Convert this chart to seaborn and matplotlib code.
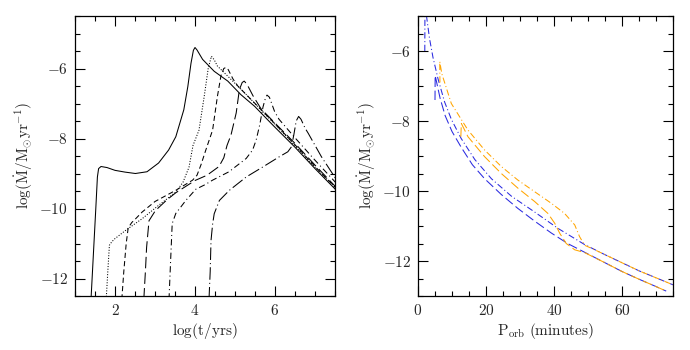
import matplotlib
matplotlib.use("Agg")
import seaborn as sns
import matplotlib.pyplot as plt
from matplotlib.ticker import MultipleLocator, FuncFormatter

# ---- left panel: log(t/yrs) vs log(Mdot), six tracks ----
t_solid = [1.40, 1.46, 1.52, 1.56, 1.59, 1.65, 1.80, 2.00, 2.25, 2.51, 2.80, 3.09, 3.34, 3.52,
           3.72, 3.82, 3.90, 3.96, 4.00, 4.05, 4.19, 4.48, 4.82, 5.15, 5.49, 5.82, 6.00, 6.50,
           7.00, 7.55]
m_solid = [-12.6, -11.3, -10.0, -9.1, -8.86, -8.80, -8.83, -8.91, -8.96, -9.00, -8.95, -8.70,
           -8.33, -7.95, -7.18, -6.52, -5.85, -5.48, -5.40, -5.47, -5.74, -6.08, -6.36, -6.75,
           -7.08, -7.47, -7.68, -8.25, -8.86, -9.50]

t_dot = [1.78, 1.82, 1.86, 1.92, 2.00, 2.26, 2.68, 3.09, 3.52, 3.70, 3.85, 3.95, 4.10, 4.23,
         4.33, 4.41, 4.48, 4.56, 4.82, 5.20, 5.60, 6.00, 6.50, 7.00, 7.55]
m_dot = [-12.6, -11.8, -11.05, -10.95, -10.86, -10.63, -10.29, -9.91, -9.53, -9.25, -8.82,
         -8.20, -7.76, -6.80, -6.00, -5.65, -5.75, -5.93, -6.22, -6.65, -7.12, -7.60, -8.20,
         -8.82, -9.45]

t_sdash = [2.17, 2.22, 2.28, 2.33, 2.42, 2.51, 2.68, 3.00, 3.52, 3.94, 4.05, 4.15, 4.27, 4.44,
           4.56, 4.65, 4.72, 4.77, 4.83, 4.95, 5.07, 5.50, 6.00, 6.50, 7.00, 7.55]
m_sdash = [-12.6, -11.8, -11.0, -10.55, -10.40, -10.30, -10.10, -9.80, -9.48, -9.19, -9.05,
           -8.75, -8.33, -7.76, -6.80, -6.20, -6.00, -5.97, -6.03, -6.30, -6.50, -7.00, -7.58,
           -8.18, -8.80, -9.45]

t_ldash = [2.72, 2.76, 2.79, 2.85, 3.01, 3.30, 3.52, 4.00, 4.30, 4.60, 4.72, 4.80, 4.90, 5.03,
           5.11, 5.18, 5.23, 5.30, 5.45, 5.65, 6.00, 6.50, 7.00, 7.55]
m_ldash = [-12.6, -11.8, -11.11, -10.35, -10.06, -9.75, -9.55, -9.20, -9.05, -8.80, -8.55,
           -8.20, -7.90, -7.27, -6.60, -6.40, -6.36, -6.45, -6.78, -7.15, -7.56, -8.14, -8.76,
           -9.42]

t_dd = [3.35, 3.39, 3.43, 3.52, 3.65, 3.77, 4.02, 4.25, 4.44, 4.85, 5.28, 5.44, 5.53, 5.62,
        5.70, 5.76, 5.80, 5.86, 5.99, 6.10, 6.50, 7.00, 7.55]
m_dd = [-12.6, -11.5, -10.43, -10.14, -9.95, -9.77, -9.45, -9.32, -9.19, -8.95, -8.57, -8.33,
        -8.04, -7.60, -7.10, -6.85, -6.76, -6.82, -7.23, -7.45, -7.98, -8.62, -9.30]

t_ldd = [4.35, 4.38, 4.40, 4.44, 4.48, 4.61, 4.86, 5.28, 5.70, 6.11, 6.32, 6.41, 6.47, 6.53,
         6.59, 6.65, 6.75, 6.83, 7.16, 7.55]
m_ldd = [-12.6, -11.8, -10.92, -10.45, -10.15, -9.77, -9.48, -9.10, -8.81, -8.52, -8.38,
         -8.24, -7.90, -7.50, -7.37, -7.45, -7.70, -7.85, -8.52, -9.20]

# ---- right panel: P_orb (minutes) vs log(Mdot) ----
p_blue_dd = [2.0, 2.05, 2.5, 3.4, 4.4, 5.9, 7.8, 9.8, 12.7, 16.7, 21.6, 27.5, 34.3, 41.2,
             49.0, 55.0, 60.0, 65.0, 70.0, 75.0]
m_blue_dd = [-6.0, -4.6, -5.0, -5.65, -6.18, -6.80, -7.45, -7.95, -8.50, -9.10, -9.65, -10.15,
             -10.60, -11.07, -11.53, -11.82, -12.05, -12.28, -12.48, -12.68]

p_blue_da = [5.0, 5.05, 6.5, 8.0, 10.0, 12.7, 16.0, 19.6, 24.5, 29.4, 34.3, 39.2, 44.0, 49.0,
             55.0, 60.0, 65.0, 70.0, 73.0]
m_blue_da = [-7.4, -6.7, -7.35, -7.85, -8.30, -8.75, -9.25, -9.65, -10.10, -10.50, -10.86,
             -11.20, -11.50, -11.75, -12.05, -12.30, -12.52, -12.73, -12.86]

p_orng_dd = [6.45, 6.4, 7.0, 9.8, 14.7, 19.6, 24.5, 29.4, 34.3, 39.2, 43.1, 46.1, 47.5, 49.0,
             52.0, 55.0, 60.0, 65.0, 70.0, 75.0]
m_orng_dd = [-6.9, -6.3, -6.65, -7.50, -8.26, -8.83, -9.30, -9.69, -10.02, -10.35, -10.64,
             -10.97, -11.30, -11.55, -11.68, -11.82, -12.05, -12.28, -12.48, -12.68]

p_orng_da = [12.6, 12.75, 14.7, 19.6, 24.5, 29.4, 34.3, 38.2, 40.2, 41.7, 43.6, 46.1, 49.0,
             55.0, 60.0, 65.0, 70.0, 73.0]
m_orng_da = [-8.45, -8.07, -8.45, -9.02, -9.50, -9.92, -10.30, -10.64, -10.92, -11.21,
             -11.50, -11.68, -11.76, -12.05, -12.30, -12.52, -12.73, -12.86]

sns.set_style("ticks")
plt.rcParams["font.family"] = ["DejaVu Serif"]
plt.rcParams["mathtext.fontset"] = "cm"

fig = plt.figure(figsize=(6.9, 3.5), dpi=100)
ax1 = fig.add_axes([75 / 690, 54 / 350, 260 / 690, 280 / 350])
ax2 = fig.add_axes([418 / 690, 54 / 350, 255 / 690, 280 / 350])

left_tracks = [
    (t_solid, m_solid, "-"),
    (t_dot, m_dot, (0, (1, 1.6))),
    (t_sdash, m_sdash, (0, (5, 3))),
    (t_ldash, m_ldash, (0, (11, 4))),
    (t_dd, m_dd, (0, (6, 3, 1, 3))),
    (t_ldd, m_ldd, (0, (12, 3, 1, 3))),
]
for x, y, ls in left_tracks:
    sns.lineplot(x=x, y=y, ax=ax1, sort=False, estimator=None, color="black",
                 linestyle=ls, lw=0.75)

blue = "#2a2ae0"
orange = "#ffa500"
right_tracks = [
    (p_blue_dd, m_blue_dd, blue, (0, (6, 2.5, 1, 2.5))),
    (p_blue_da, m_blue_da, blue, (0, (9, 3.5))),
    (p_orng_dd, m_orng_dd, orange, (0, (6, 2.5, 1, 2.5))),
    (p_orng_da, m_orng_da, orange, (0, (9, 3.5))),
]
for x, y, c, ls in right_tracks:
    sns.lineplot(x=x, y=y, ax=ax2, sort=False, estimator=None, color=c,
                 linestyle=ls, lw=0.75)

fmt = FuncFormatter(lambda v, p: r"$%g$" % v)
ylab = r"$\log(\dot{\mathrm{M}}/\mathrm{M}_{\odot}\mathrm{yr}^{-1})$"

ax1.set_xlim(1, 7.5)
ax1.set_ylim(-12.5, -4.5)
ax1.xaxis.set_major_locator(MultipleLocator(2))
ax1.xaxis.set_minor_locator(MultipleLocator(0.5))
ax1.yaxis.set_major_locator(MultipleLocator(2))
ax1.yaxis.set_minor_locator(MultipleLocator(0.5))
ax1.set_xlabel(r"$\log(\mathrm{t/yrs})$", fontsize=11, labelpad=2)
ax1.set_ylabel(ylab, fontsize=11, labelpad=3)

ax2.set_xlim(0, 75)
ax2.set_ylim(-13, -5)
ax2.xaxis.set_major_locator(MultipleLocator(20))
ax2.xaxis.set_minor_locator(MultipleLocator(5))
ax2.yaxis.set_major_locator(MultipleLocator(2))
ax2.yaxis.set_minor_locator(MultipleLocator(0.5))
ax2.set_xlabel(r"$\mathrm{P_{orb}}\ \mathrm{(minutes)}$", fontsize=11, labelpad=2)
ax2.set_ylabel(ylab, fontsize=11, labelpad=3)

for ax in (ax1, ax2):
    ax.xaxis.set_major_formatter(fmt)
    ax.yaxis.set_major_formatter(fmt)
    ax.tick_params(which="both", direction="in", top=True, right=True,
                   labelsize=11, width=0.8, color="black")
    ax.tick_params(which="major", length=7, pad=5)
    ax.tick_params(which="minor", length=3.5)
    for s in ax.spines.values():
        s.set_linewidth(0.9)
        s.set_color("black")

fig.savefig("out.png", dpi=100)
